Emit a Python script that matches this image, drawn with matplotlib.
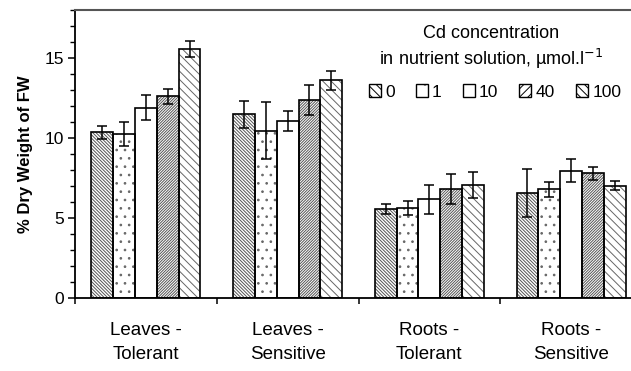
import numpy as np
import matplotlib.pyplot as plt
from matplotlib.patches import Patch
from matplotlib.ticker import MultipleLocator, FixedLocator

plt.rcParams['font.family'] = ['Liberation Sans', 'DejaVu Sans']
plt.rcParams['hatch.linewidth'] = 0.7

# data
groups = ["Leaves -\nTolerant", "Leaves -\nSensitive", "Roots -\nTolerant", "Roots -\nSensitive"]
cd_levels = ["0", "1", "10", "40", "100"]

mean_0 = [10.36, 11.48, 5.54, 6.54]
mean_1 = [10.25, 10.44, 5.65, 6.79]
mean_10 = [11.90, 11.06, 6.17, 7.94]
mean_40 = [12.60, 12.38, 6.79, 7.79]
mean_100 = [15.56, 13.60, 7.06, 7.02]

err_0 = [0.40, 0.83, 0.31, 1.50]
err_1 = [0.73, 1.78, 0.44, 0.49]
err_10 = [0.76, 0.63, 0.92, 0.72]
err_40 = [0.48, 0.92, 0.94, 0.40]
err_100 = [0.49, 0.60, 0.81, 0.29]

means = [mean_0, mean_1, mean_10, mean_40, mean_100]
errs = [err_0, err_1, err_10, err_40, err_100]
hatches = ['\\' * 10, '..', '', '/' * 12, '\\' * 4]
hatch_cols = ['#555555', '#666666', 'black', '#555555', '#666666']

fig = plt.figure(figsize=(6.31, 3.71), dpi=100)
# axes runs past the right edge of the picture (cropped in the original)
ax = fig.add_axes([75 / 631, 73 / 371, 567 / 631, 288 / 371])

x = np.arange(len(groups))
w = 0.154
for i in range(len(cd_levels)):
    pos = x + (i - 2) * w
    # hatch layer in grey, then black outline on top
    ax.bar(pos, means[i], w, color='white', edgecolor=hatch_cols[i],
           linewidth=0, hatch=hatches[i], zorder=2)
    ax.bar(pos, means[i], w, fill=False, edgecolor='black', linewidth=1.2, zorder=2.5)
    ax.errorbar(pos, means[i], yerr=errs[i], fmt='none',
                ecolor='black', elinewidth=1.1, capsize=3.5, capthick=1.1, zorder=3)

ax.set_xlim(-0.5, 3.5)
ax.set_ylim(0, 18)
ax.set_xticks(x)
ax.set_xticklabels(groups, fontsize=13.5, linespacing=1.55)
ax.xaxis.set_minor_locator(FixedLocator([-0.5, 0.5, 1.5, 2.5]))
ax.tick_params(axis='x', which='major', length=0, pad=17)
ax.tick_params(axis='x', which='minor', length=4, width=1.1, direction='out')

ax.set_yticks([0, 5, 10, 15])
ax.yaxis.set_minor_locator(MultipleLocator(1))
ax.tick_params(axis='y', which='major', length=5, width=1.1, labelsize=12.5, pad=3)
ax.tick_params(axis='y', which='minor', length=3.5, width=1.0)
ax.set_ylabel("% Dry Weight of FW", fontsize=12, fontweight='bold', labelpad=8)

for side in ['left', 'bottom']:
    ax.spines[side].set_linewidth(1.3)
ax.spines['top'].set_linewidth(1.5)
ax.spines['top'].set_color('#555555')
ax.spines['right'].set_visible(False)

fig.text(491 / 631, 1 - 34 / 371, "Cd concentration", ha='center', va='center', fontsize=13)
fig.text(491 / 631, 1 - 59 / 371, "in nutrient solution, \u00b5mol.l$^{-1}$",
         ha='center', va='center', fontsize=13)

handles = [Patch(facecolor='white', edgecolor='black', hatch=hatches[i][:4] if i != 1 else '.',
                 linewidth=1.0) for i in range(len(cd_levels))]
fig.legend(handles, cd_levels, loc='center', bbox_to_anchor=(495 / 631, 1 - 92 / 371),
           ncol=5, frameon=False, fontsize=12.5, handlelength=0.7, handleheight=0.7,
           handletextpad=0.25, columnspacing=1.2, borderaxespad=0, borderpad=0)

fig.savefig("out.png", dpi=100)
